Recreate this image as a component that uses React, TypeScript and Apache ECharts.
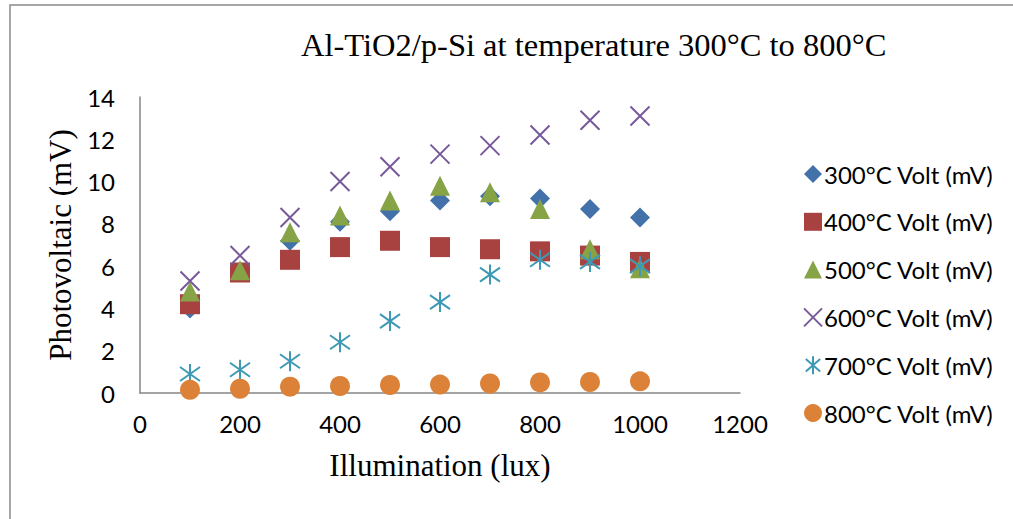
import React, { useEffect, useRef } from "react";
import * as echarts from "echarts";

const illumination = [100, 200, 300, 400, 500, 600, 700, 800, 900, 1000];
const v300 = [4.0, 5.7, 7.2, 8.1, 8.6, 9.1, 9.3, 9.2, 8.7, 8.3];
const v400 = [4.2, 5.7, 6.3, 6.9, 7.2, 6.9, 6.8, 6.7, 6.5, 6.2];
const v500 = [4.8, 5.8, 7.6, 8.4, 9.1, 9.8, 9.5, 8.7, 6.8, 5.9];
const v600 = [5.3, 6.5, 8.3, 10.0, 10.7, 11.3, 11.7, 12.2, 12.9, 13.1];
const v700 = [0.9, 1.1, 1.5, 2.4, 3.4, 4.3, 5.6, 6.3, 6.2, 6.0];
const v800 = [0.15, 0.2, 0.3, 0.33, 0.38, 0.4, 0.45, 0.5, 0.52, 0.55];

const seriesNames = [
  "300°C Volt (mV)",
  "400°C Volt (mV)",
  "500°C Volt (mV)",
  "600°C Volt (mV)",
  "700°C Volt (mV)",
  "800°C Volt (mV)",
];
const seriesValues = [v300, v400, v500, v600, v700, v800];
const colors = ["#4372AB", "#A84240", "#86A346", "#77599A", "#3E9AB4", "#DC8238"];

const CROSS = "path://M0,0L20,20M20,0L0,20";
const STAR = "path://M10,0L10,20M2,3L18,17M18,3L2,17";
const symbols = ["diamond", "rect", "triangle", CROSS, STAR, "circle"];
const sizes = [20, 20, 20, 19, 20, 20];
const stroked = [false, false, false, true, true, false];

export default function App() {
  const ref = useRef<HTMLDivElement>(null);
  useEffect(() => {
    document.body.style.margin = "0";
    const chart = echarts.init(ref.current!, null, { renderer: "svg" });
    const sans = "Lato";
    const serif = "Liberation Serif";
    const styleFor = (i: number) =>
      stroked[i]
        ? { color: colors[i], borderColor: colors[i], borderWidth: 2, opacity: 1 }
        : { color: colors[i], borderWidth: 0, opacity: 1 };
    const series = seriesNames.map((name, i) => ({
      name,
      type: "scatter",
      symbol: symbols[i],
      symbolSize: sizes[i],
      data: illumination.map((x, j) => [x, seriesValues[i][j]]),
      itemStyle: styleFor(i),
      z: 2 + i,
    }));
    chart.setOption({
      animation: false,
      backgroundColor: "#fff",
      title: {
        text: "Al-TiO2/p-Si at temperature 300°C to 800°C",
        left: 296,
        top: 23,
        textStyle: { fontFamily: serif, fontSize: 32.5, fontWeight: "normal", color: "#000" },
      },
      graphic: [
        {
          type: "rect",
          shape: { x: 10, y: 5, width: 1100, height: 600 },
          style: { fill: "none", stroke: "#898989", lineWidth: 1.5 },
          silent: true,
        },
      ],
      legend: {
        orient: "vertical",
        left: 798,
        top: 157,
        itemWidth: 18,
        itemHeight: 18,
        itemGap: 23.8,
        textStyle: { fontFamily: sans, fontSize: 24, color: "#000", lineHeight: 24, padding: [0, 0, 0, -3] },
        data: seriesNames.map((name, i) => ({
          name,
          icon: symbols[i],
          itemStyle: styleFor(i),
        })),
      },
      grid: { left: 140, right: 273, top: 97, bottom: 126, outerBoundsMode: "none" },
      xAxis: {
        type: "value",
        min: 0,
        max: 1200,
        interval: 200,
        name: "Illumination (lux)",
        nameLocation: "middle",
        nameGap: 57,
        nameTextStyle: { fontFamily: serif, fontSize: 31, color: "#000" },
        axisLine: { lineStyle: { color: "#868686", width: 1.5 } },
        axisTick: { show: false },
        splitLine: { show: false },
        axisLabel: {
          fontFamily: sans,
          fontSize: 24,
          color: "#000",
          margin: 18,
          formatter: (v: number) => String(v),
        },
      },
      yAxis: {
        type: "value",
        min: 0,
        max: 14,
        interval: 2,
        name: "Photovoltaic (mV)",
        nameLocation: "middle",
        nameRotate: 90,
        nameGap: 62,
        nameTextStyle: { fontFamily: serif, fontSize: 31, color: "#000" },
        axisLine: { show: true, lineStyle: { color: "#868686", width: 1.5 } },
        axisTick: { show: false },
        splitLine: { show: false },
        axisLabel: { fontFamily: sans, fontSize: 24, color: "#000", margin: 25 },
      },
      series,
    });
    return () => chart.dispose();
  }, []);
  return <div ref={ref} style={{ width: 1013, height: 519 }} />;
}
